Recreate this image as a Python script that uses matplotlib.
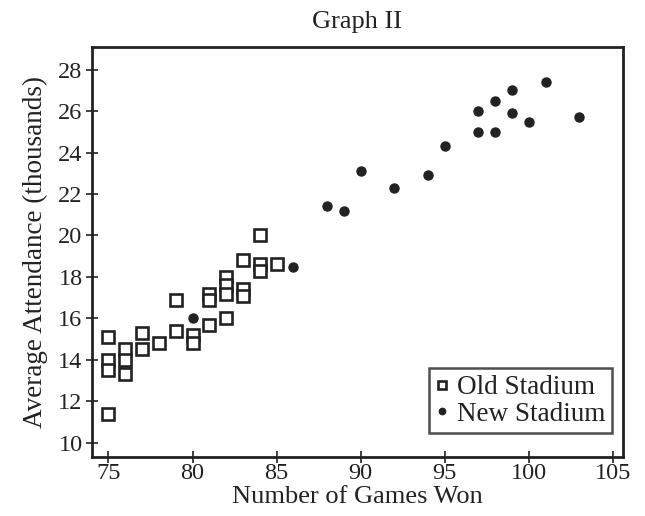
import matplotlib.pyplot as plt

plt.rcParams['font.family'] = ['Liberation Serif', 'DejaVu Serif']

# Old stadium: games won vs average attendance (thousands)
old_wins = [75, 75, 75, 75, 76, 76, 76, 77, 77, 78, 79, 79, 80, 80,
            81, 81, 81, 82, 82, 82, 82, 83, 83, 83, 84, 84, 84, 85]
old_att = [15.1, 14.0, 13.5, 11.4, 14.5, 14.0, 13.3, 15.3, 14.5, 14.8,
           16.9, 15.4, 15.2, 14.8, 17.2, 16.9, 15.7, 18.0, 17.6, 17.2,
           16.0, 18.8, 17.4, 17.1, 20.0, 18.6, 18.3, 18.6]

# New stadium
new_wins = [80, 86, 88, 89, 90, 92, 94, 95, 97, 97, 98, 98, 99, 99, 100, 101, 103]
new_att = [16.0, 18.5, 21.4, 21.2, 23.1, 22.3, 22.9, 24.3, 26.0, 25.0,
           26.5, 25.0, 27.0, 25.9, 25.5, 27.4, 25.7]

ink = '#222222'

fig = plt.figure(figsize=(6.45, 5.16), dpi=100)
ax = fig.add_axes([0.142, 0.114, 0.824, 0.795])

ax.plot(old_wins, old_att, 's', ms=8.5, mfc='white', mec=ink, mew=1.9,
        label='Old Stadium')
ax.plot(new_wins, new_att, 'o', ms=6.5, color=ink, label='New Stadium')

ax.set_xlim(74.0, 105.6)
ax.set_ylim(9.3, 29.1)
ax.set_xticks(range(75, 106, 5))
ax.set_yticks(range(10, 29, 2))
ax.tick_params(direction='inout', length=9, width=1.2, labelsize=17.5,
               colors=ink)
ax.tick_params(axis='x', pad=0)
ax.tick_params(axis='y', pad=2)
for s in ax.spines.values():
    s.set_linewidth(2)
    s.set_color(ink)

ax.set_title('Graph II', fontsize=19, color=ink, pad=14)
ax.set_xlabel('Number of Games Won', fontsize=19, color=ink, labelpad=1)
ax.set_ylabel('Average Attendance (thousands)', fontsize=19.5, color=ink, labelpad=7)

leg = ax.legend(loc='lower right', bbox_to_anchor=(0.98, 0.058),
                fontsize=19.5, frameon=True, fancybox=False,
                edgecolor=ink, markerscale=0.7, handlelength=0.5,
                handletextpad=0.3, borderpad=0.25, labelspacing=0.05,
                borderaxespad=0)
leg.get_frame().set_linewidth(1.8)
for t in leg.get_texts():
    t.set_color(ink)

fig.savefig('out.png', dpi=100)
